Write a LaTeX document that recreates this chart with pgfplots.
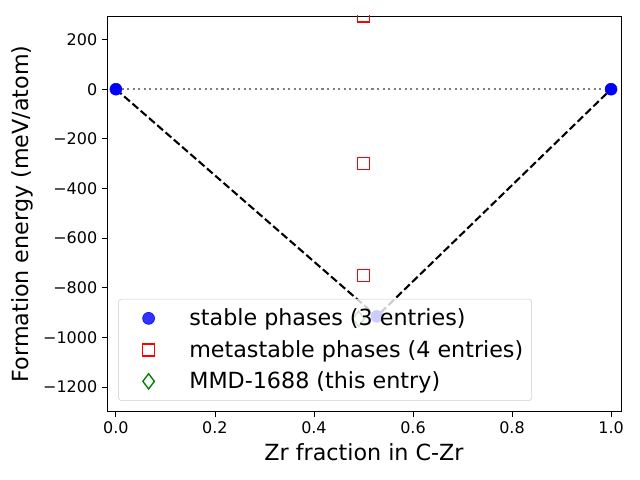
\documentclass[border=0pt]{standalone}
\usepackage{pgfplots}
\pgfplotsset{compat=1.18}
\usepackage{fontspec}
\setmainfont{DejaVu Sans}
\usetikzlibrary{calc}
\definecolor{mplgreen}{RGB}{0,128,0}
\definecolor{mplred}{RGB}{255,0,0}
\definecolor{mplblue}{RGB}{0,0,255}
\begin{document}
\begin{tikzpicture}
\begin{axis}[name=ax, scale only axis, width=370pt, height=285pt,
  set layers=standard,
  xmin=-0.018, xmax=1.02, ymin=-1300, ymax=295,
  xtick={0,0.2,0.4,0.6,0.8,1}, xticklabels={0.0,0.2,0.4,0.6,0.8,1.0},
  ytick={-1200,-1000,-800,-600,-400,-200,0,200},
  yticklabels={−1200,−1000,−800,−600,−400,−200,0,200},
  tick align=outside, xtick pos=left, ytick pos=left,
  major tick length=3.5pt, tick style={black, line width=0.6pt},
  axis line style={line width=0.6pt},
  tick label style={font=\fontsize{11.5}{13}\selectfont},
  label style={font=\fontsize{16}{19}\selectfont},
  xlabel={Zr fraction in C-Zr}, ylabel={Formation energy (meV/atom)},
  legend style={at={(0.022,0.028)}, anchor=south west,
    font=\fontsize{16}{19}\selectfont, draw=black!20, rounded corners=2pt,
    fill=white, fill opacity=0.8, text opacity=1, draw opacity=1,
    row sep=5pt, inner xsep=4pt, inner ysep=5pt},
  legend image code/.code={\path[draw=none,fill=none] (0cm,-0.1cm) rectangle (1.58cm,0.1cm);
    \draw[#1] plot coordinates {(0.62cm,0cm)};},
  legend cell align=left,
]
\addplot[gray, line width=1.5pt, dash pattern=on 1.5pt off 2.5pt, forget plot] coordinates {(0,0)(1,0)};
\addplot[black, line width=1.5pt, dash pattern=on 5.5pt off 2.4pt, forget plot] coordinates {(0,0)(0.527,-915)(1,0)};
\addplot[only marks, mark=*, mark size=4.3pt, color=mplblue, mark options={solid, draw=mplblue, fill=mplblue}] coordinates {(0,0)(0.527,-915)(1,0)};
\addlegendentry{stable phases (3 entries)}
\addplot[only marks, mark=square, mark size=4.3pt, color=mplred, line width=1pt, clip marker paths=true] coordinates {(0.5,294.9)};
\addlegendentry{metastable phases (4 entries)}
\addplot[only marks, mark=diamond, mark size=5.5pt, color=mplgreen, mark options={solid, draw=mplgreen, line width=1pt}] coordinates {(0.49,-925)};
\addlegendentry{MMD-1688 (this entry)}
\addplot[only marks, mark=square, mark size=4.3pt, color=mplred, line width=1pt, clip marker paths=true, forget plot] coordinates {(0.5,-300)};
\addplot[only marks, mark=square, mark size=4.3pt, color=mplred, line width=1pt, clip marker paths=true, forget plot] coordinates {(0.5,-750)};
\end{axis}
\pgfresetboundingbox
\path[use as bounding box] ($(ax.south west)+(-77pt,-49pt)$) rectangle ($(ax.north east)+(13.7pt,11.5pt)$);
\end{tikzpicture}
\end{document}
